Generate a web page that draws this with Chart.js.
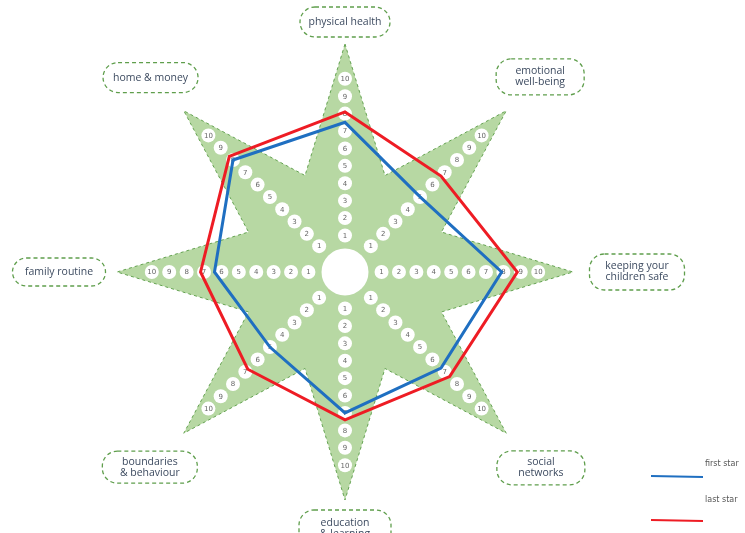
<!DOCTYPE html>
<html>
<head>
<meta charset="utf-8">
<script src="https://cdn.jsdelivr.net/npm/chart.js@4.4.1/dist/chart.umd.min.js"></script>
<style>
  html, body { margin: 0; padding: 0; background: #fff; }
  #wrap { position: relative; width: 745px; height: 533px; }
</style>
</head>
<body>
<div id="wrap"><canvas id="starChart"></canvas></div>
<script>
// eight areas of the star, clockwise from the top
const categories = [
    ["physical health"],
    ["emotional", "well-being"],
    ["keeping your", "children safe"],
    ["social", "networks"],
    ["education", "& learning"],
    ["boundaries", "& behaviour"],
    ["family routine"],
    ["home & money"]
];
const firstStar = [7.5, 5, 7.9, 6.7, 7, 5, 6.4, 8];
const lastStar = [8.1, 6.7, 8.8, 7.4, 7.4, 6.8, 7.2, 8.3];
const seriesNames = ["first star", "last star"];
const stepValues = [1, 2, 3, 4, 5, 6, 7, 8, 9, 10];
const starTip = 12;
const starValley = 4.9;

// radar needs a spoke between every pair of arms for the star valleys
let labels = [];
let starShape = [];
let firstData = [];
let lastData = [];
categories.forEach(function (c, i) {
    labels.push(c, "");
    starShape.push(starTip, starValley);
    firstData.push(firstStar[i], null);
    lastData.push(lastStar[i], null);
});

// label boxes: distance from centre, width, height
const boxes = [
    [250, 90, 30], [276, 88, 36], [292, 95, 36], [277, 88, 34],
    [257, 92, 38], [276, 95, 32], [286, 93, 28], [275, 95, 30]
];

const starDecor = {
    id: "starDecor",
    afterDatasetDraw: function (chart, args) {
        if (args.index !== 0) return;
        let s = chart.scales.r;
        let ctx = chart.ctx;
        ctx.save();
        ctx.fillStyle = "#fff";
        ctx.beginPath();
        ctx.arc(s.xCenter, s.yCenter, s.getDistanceFromCenterForValue(0.25), 0, Math.PI * 2);
        ctx.fill();
        ctx.font = "7px 'DejaVu Sans'";
        ctx.textAlign = "center";
        ctx.textBaseline = "middle";
        categories.forEach(function (c, i) {
            stepValues.forEach(function (v) {
                let p = s.getPointPosition(i * 2, s.getDistanceFromCenterForValue(v));
                ctx.fillStyle = "#fff";
                ctx.beginPath();
                ctx.arc(p.x, p.y, 7, 0, Math.PI * 2);
                ctx.fill();
                ctx.fillStyle = "#666";
                ctx.fillText(String(v), p.x, p.y + 0.5);
            });
        });
        ctx.restore();
    },
    afterDraw: function (chart) {
        let s = chart.scales.r;
        let ctx = chart.ctx;
        ctx.save();
        ctx.textAlign = "center";
        ctx.textBaseline = "middle";
        categories.forEach(function (c, i) {
            let b = boxes[i];
            let p = s.getPointPosition(i * 2, b[0]);
            let x = p.x - b[1] / 2, y = p.y - b[2] / 2;
            ctx.fillStyle = "#fff";
            ctx.strokeStyle = "#5f9e4c";
            ctx.lineWidth = 1.3;
            ctx.setLineDash([4, 3]);
            ctx.beginPath();
            ctx.roundRect(x, y, b[1], b[2], Math.min(15, b[2] / 2));
            ctx.fill();
            ctx.stroke();
            ctx.setLineDash([]);
            ctx.fillStyle = "#3d4b60";
            ctx.font = "10.5px 'Open Sans'";
            let lh = 11;
            c.forEach(function (line, k) {
                ctx.fillText(line, p.x, p.y + (k - (c.length - 1) / 2) * lh);
            });
        });

        // legend in the lower right corner
        let rows = [[464, 476], [500, 520]];
        ctx.textAlign = "left";
        ctx.font = "8px 'DejaVu Sans'";
        chart.data.datasets.slice(1).forEach(function (ds, k) {
            ctx.fillStyle = "#555";
            ctx.fillText(ds.label, 705, rows[k][0]);
            ctx.strokeStyle = ds.borderColor;
            ctx.lineWidth = 2;
            ctx.beginPath();
            ctx.moveTo(651, rows[k][1]);
            ctx.lineTo(703, rows[k][1] + 1);
            ctx.stroke();
        });
        ctx.restore();
    }
};

let ctx1 = document.getElementById("starChart");

let chart1 = new Chart(ctx1, {
    type: "radar",
    data: {
        labels: labels,
        datasets: [
            {
                label: "star",
                data: starShape,
                backgroundColor: "#b7d8a3",
                borderColor: "#64a251",
                borderWidth: 1,
                borderDash: [3, 3],
                fill: true,
                pointRadius: 0,
                order: 3
            },
            {
                label: seriesNames[0],
                data: firstData,
                borderColor: "#1f6fc1",
                borderWidth: 3,
                fill: false,
                spanGaps: true,
                pointRadius: 0,
                order: 2
            },
            {
                label: seriesNames[1],
                data: lastData,
                borderColor: "#ee1c24",
                borderWidth: 3,
                fill: false,
                spanGaps: true,
                pointRadius: 0,
                order: 1
            }
        ]
    },
    options: {
        responsive: true,
        maintainAspectRatio: false,
        animation: false,
        events: [],
        layout: { padding: { left: 117, right: 172, top: 44, bottom: 33 } },
        elements: { line: { tension: 0 } },
        plugins: {
            legend: { display: false },
            tooltip: { enabled: false }
        },
        scales: {
            r: {
                min: -1.1,
                max: 12,
                ticks: { display: false },
                grid: { display: false },
                angleLines: { display: false },
                pointLabels: { display: false }
            }
        }
    },
    plugins: [starDecor]
});
</script>
</body>
</html>
